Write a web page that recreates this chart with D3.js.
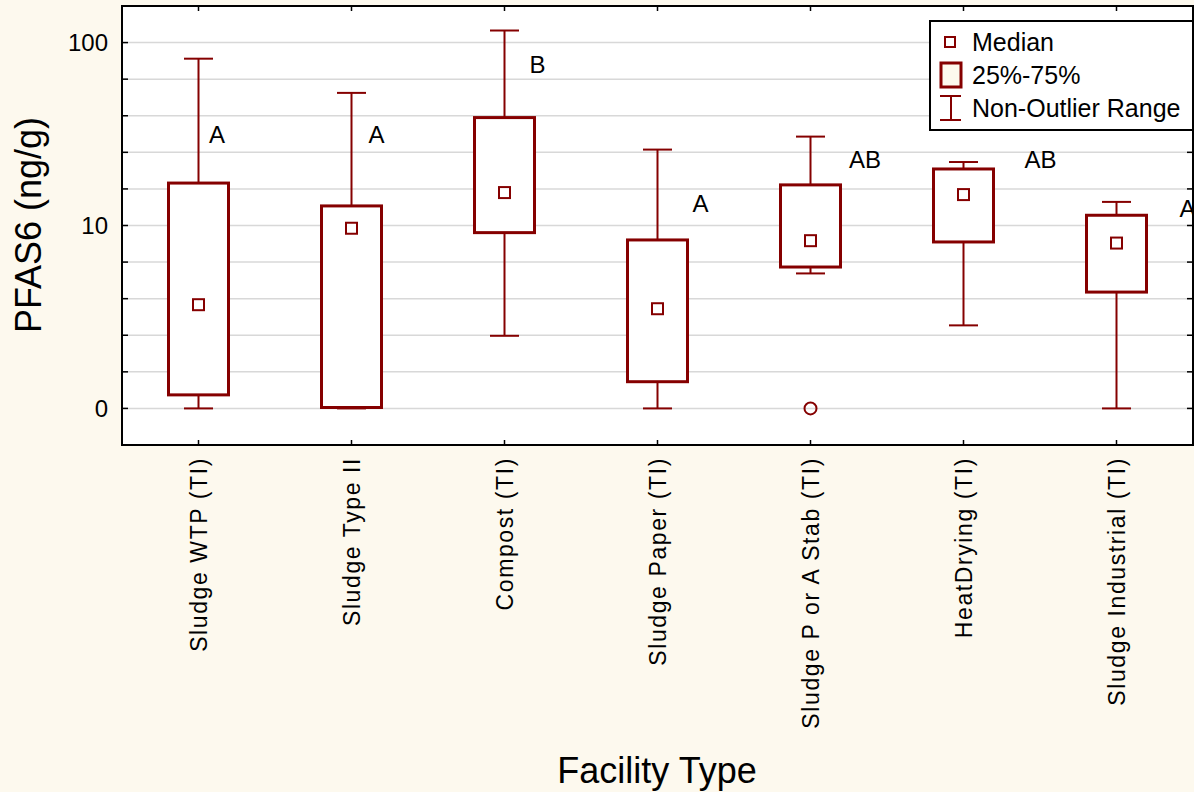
<!DOCTYPE html>
<html>
<head>
<meta charset="utf-8">
<script src="https://cdn.jsdelivr.net/npm/d3@7"></script>
<style>
  html, body { margin: 0; padding: 0; background: #fdf9ee; }
  svg { display: block; font-family: "Liberation Sans", Arial, sans-serif; }
</style>
</head>
<body>
<svg id="chart" width="1194" height="792"></svg>
<script>
// ---- data (values in plotted log units: 0 -> "0", 1 -> "10", 2 -> "100") ----
const categories = ["Sludge WTP (TI)", "Sludge Type II", "Compost (TI)", "Sludge Paper (TI)",
                    "Sludge P or A Stab (TI)", "HeatDrying (TI)", "Sludge Industrial (TI)"];
const whiskerHigh = [1.912, 1.725, 2.066, 1.415, 1.486, 1.347, 1.129];
const q3Values    = [1.232, 1.107, 1.590, 0.921, 1.222, 1.309, 1.056];
const medians     = [0.567, 0.985, 1.180, 0.545, 0.917, 1.169, 0.904];
const q1Values    = [0.074, 0.005, 0.961, 0.146, 0.773, 0.910, 0.636];
const whiskerLow  = [0.000, 0.000, 0.397, 0.000, 0.738, 0.454, 0.000];
const outliers    = [[], [], [], [], [0.0], [], []];
const groupLetters = ["A", "A", "B", "A", "AB", "AB", "A"];
const letterValue  = [1.453, 1.453, 1.836, 1.074, 1.316, 1.316, 1.048];
const letterShift  = [0.069, 0.111, 0.163, 0.229, 0.252, 0.399, 0.412]; // fraction of band
const yTickValues = [0, 1, 2];
const yTickLabels = ["0", "10", "100"];
const gridValues = d3.range(0, 2.01, 0.2);
const legendItems = ["Median", "25%-75%", "Non-Outlier Range"];

// ---- layout ----
const svg = d3.select("#chart");
const W = 1194, H = 792;
const plot = { left: 122, top: 6, right: 1193, bottom: 445 };
const red = "#850000";

const x = d3.scaleBand().domain(categories).range([plot.left, plot.right]).padding(0);
const y = d3.scaleLinear().domain([-0.2, 2.2]).range([plot.bottom, plot.top]);
const cx = c => x(c) + x.bandwidth() / 2;

svg.append("rect").attr("width", W).attr("height", H).attr("fill", "#fdf9ee");
svg.append("rect").attr("x", plot.left).attr("y", plot.top)
  .attr("width", plot.right - plot.left).attr("height", plot.bottom - plot.top).attr("fill", "#ffffff");

// gridlines
svg.append("g").selectAll("line").data(gridValues).join("line")
  .attr("x1", plot.left).attr("x2", plot.right)
  .attr("y1", d => y(d)).attr("y2", d => y(d))
  .attr("stroke", "#d8d8d8").attr("stroke-width", 1.5);

// boxes
const boxW = 60, capW = 29, medS = 11;
const g = svg.append("g");
categories.forEach((c, i) => {
  const xc = cx(c);
  g.append("line").attr("x1", xc).attr("x2", xc).attr("y1", y(whiskerHigh[i])).attr("y2", y(q3Values[i]))
    .attr("stroke", red).attr("stroke-width", 2);
  g.append("line").attr("x1", xc - capW / 2).attr("x2", xc + capW / 2)
    .attr("y1", y(whiskerHigh[i])).attr("y2", y(whiskerHigh[i])).attr("stroke", red).attr("stroke-width", 2);
  g.append("line").attr("x1", xc).attr("x2", xc).attr("y1", y(q1Values[i])).attr("y2", y(whiskerLow[i]))
    .attr("stroke", red).attr("stroke-width", 2);
  g.append("line").attr("x1", xc - capW / 2).attr("x2", xc + capW / 2)
    .attr("y1", y(whiskerLow[i])).attr("y2", y(whiskerLow[i])).attr("stroke", red).attr("stroke-width", 2);
  g.append("rect").attr("x", xc - boxW / 2).attr("y", y(q3Values[i]))
    .attr("width", boxW).attr("height", y(q1Values[i]) - y(q3Values[i]))
    .attr("fill", "#ffffff").attr("stroke", red).attr("stroke-width", 3);
  g.append("rect").attr("x", xc - medS / 2).attr("y", y(medians[i]) - medS / 2)
    .attr("width", medS).attr("height", medS)
    .attr("fill", "#ffffff").attr("stroke", red).attr("stroke-width", 2);
  outliers[i].forEach(v => {
    g.append("circle").attr("cx", xc).attr("cy", y(v)).attr("r", 6)
      .attr("fill", "none").attr("stroke", red).attr("stroke-width", 2);
  });
  g.append("text").attr("x", xc + letterShift[i] * x.bandwidth()).attr("y", y(letterValue[i]))
    .attr("font-size", 24).attr("fill", "#000").text(groupLetters[i]);
});

// frame
svg.append("rect").attr("x", plot.left).attr("y", plot.top)
  .attr("width", plot.right - plot.left).attr("height", plot.bottom - plot.top)
  .attr("fill", "none").attr("stroke", "#000").attr("stroke-width", 2);

// ticks (inward on all sides)
const tk = svg.append("g").attr("stroke", "#000").attr("stroke-width", 1.5);
gridValues.forEach(v => {
  tk.append("line").attr("x1", plot.left).attr("x2", plot.left + 6).attr("y1", y(v)).attr("y2", y(v));
  tk.append("line").attr("x1", plot.right - 6).attr("x2", plot.right).attr("y1", y(v)).attr("y2", y(v));
});
categories.forEach(c => {
  tk.append("line").attr("x1", cx(c)).attr("x2", cx(c)).attr("y1", plot.top).attr("y2", plot.top + 5);
  tk.append("line").attr("x1", cx(c)).attr("x2", cx(c)).attr("y1", plot.bottom - 5).attr("y2", plot.bottom);
});

// y tick labels
svg.append("g").selectAll("text").data(yTickValues).join("text")
  .attr("x", plot.left - 14).attr("y", d => y(d)).attr("dy", "0.35em")
  .attr("text-anchor", "end").attr("font-size", 24).attr("fill", "#000")
  .text((d, i) => yTickLabels[i]);

// x category labels
svg.append("g").selectAll("text").data(categories).join("text")
  .attr("transform", d => `translate(${cx(d)},${plot.bottom + 12}) rotate(-90)`)
  .attr("dy", "0.35em").attr("text-anchor", "end")
  .attr("font-size", 23).attr("letter-spacing", "1.6px").attr("fill", "#000")
  .text(d => d);

// axis titles
svg.append("text").attr("transform", `translate(41,225) rotate(-90)`)
  .attr("text-anchor", "middle").attr("font-size", 36).attr("fill", "#000").text("PFAS6 (ng/g)");
svg.append("text").attr("x", 657).attr("y", 783)
  .attr("text-anchor", "middle").attr("font-size", 36).attr("fill", "#000").text("Facility Type");

// legend
const lg = svg.append("g");
lg.append("rect").attr("x", 930).attr("y", 21).attr("width", plot.right - 930).attr("height", 109)
  .attr("fill", "#ffffff").attr("stroke", "#000").attr("stroke-width", 2);
const rowY = [42, 75, 108];
lg.append("rect").attr("x", 945).attr("y", rowY[0] - 5).attr("width", 10).attr("height", 10)
  .attr("fill", "#ffffff").attr("stroke", red).attr("stroke-width", 2);
lg.append("rect").attr("x", 941).attr("y", rowY[1] - 12).attr("width", 20).attr("height", 24)
  .attr("fill", "#fdf9ee").attr("stroke", red).attr("stroke-width", 3);
lg.append("line").attr("x1", 951).attr("x2", 951).attr("y1", rowY[2] - 12).attr("y2", rowY[2] + 12)
  .attr("stroke", red).attr("stroke-width", 2);
[-12, 12].forEach(o => lg.append("line").attr("x1", 940).attr("x2", 961)
  .attr("y1", rowY[2] + o).attr("y2", rowY[2] + o).attr("stroke", red).attr("stroke-width", 2));
lg.selectAll("text.lt").data(legendItems).join("text").attr("class", "lt")
  .attr("x", 972).attr("y", (d, i) => rowY[i]).attr("dy", "0.35em")
  .attr("font-size", 25).attr("fill", "#000").text(d => d);
</script>
</body>
</html>
